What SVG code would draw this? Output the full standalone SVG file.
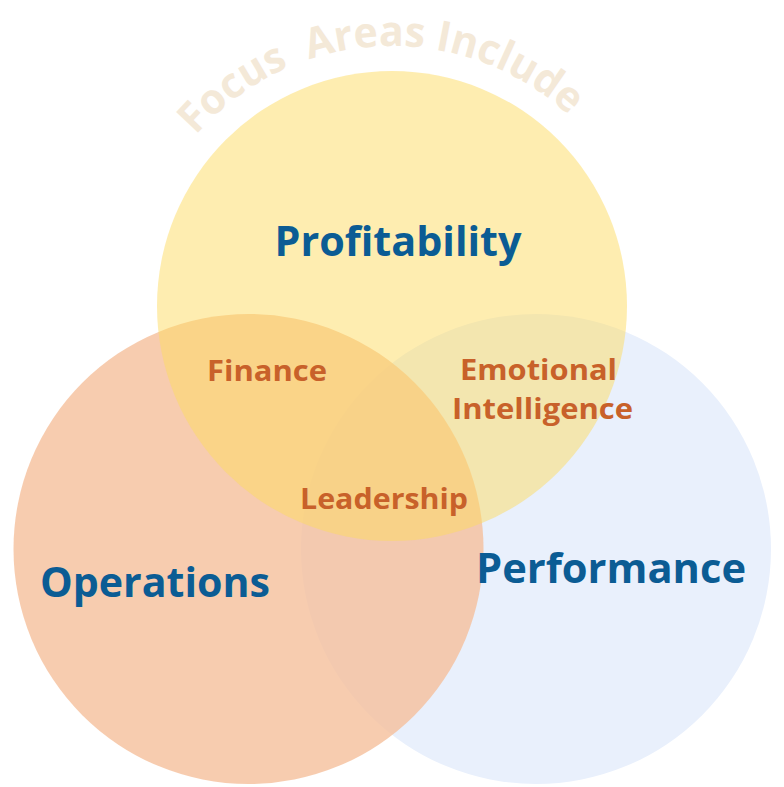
<svg xmlns="http://www.w3.org/2000/svg" width="784" height="787" viewBox="0 0 784 787">
  <defs>
    <style>
      .title { font-family: "Open Sans", "Liberation Sans", sans-serif; font-weight: 700; fill: #F4E9D8; font-size: 42px; white-space: pre; }
      .main { font-family: "Open Sans", "Liberation Sans", sans-serif; font-weight: 700; fill: #0B5C94; font-size: 42px; text-anchor: middle; }
      .sub { font-family: "Open Sans", "Liberation Sans", sans-serif; font-weight: 700; fill: #C8612A; font-size: 28px; text-anchor: middle; }
    </style>
    <path id="arc" d="M 132 306 A 260 260 0 0 1 652 306"/>
  </defs>
  <rect width="784" height="787" fill="#FFFFFF"/>
  <text class="title" xml:space="preserve" textLength="417" lengthAdjust="spacingAndGlyphs"><textPath href="#arc" startOffset="48.3%" text-anchor="middle">Focus  Areas Include</textPath></text>
  <g id="performance">
    <circle cx="536" cy="549" r="235" fill="#E9F0FC"/>
  </g>
  <g id="operations">
    <circle cx="248.5" cy="549" r="235" fill="#F5BF9B" fill-opacity="0.8"/>
  </g>
  <g id="profitability">
    <circle cx="392" cy="306" r="235" fill="#FDDB61" fill-opacity="0.5"/>
  </g>
  <g id="labels">
    <text class="main" x="398" y="256" textLength="247" lengthAdjust="spacingAndGlyphs">Profitability</text>
    <text class="main" x="155" y="597" textLength="230" lengthAdjust="spacingAndGlyphs">Operations</text>
    <text class="main" x="611" y="583" textLength="270" lengthAdjust="spacingAndGlyphs">Performance</text>
    <text class="sub" x="267" y="381" textLength="120" lengthAdjust="spacingAndGlyphs">Finance</text>
    <text class="sub" x="538.5" y="380" textLength="157" lengthAdjust="spacingAndGlyphs">Emotional</text>
    <text class="sub" x="542.5" y="419" textLength="181" lengthAdjust="spacingAndGlyphs">Intelligence</text>
    <text class="sub" x="384" y="509" textLength="168" lengthAdjust="spacingAndGlyphs">Leadership</text>
  </g>
</svg>
